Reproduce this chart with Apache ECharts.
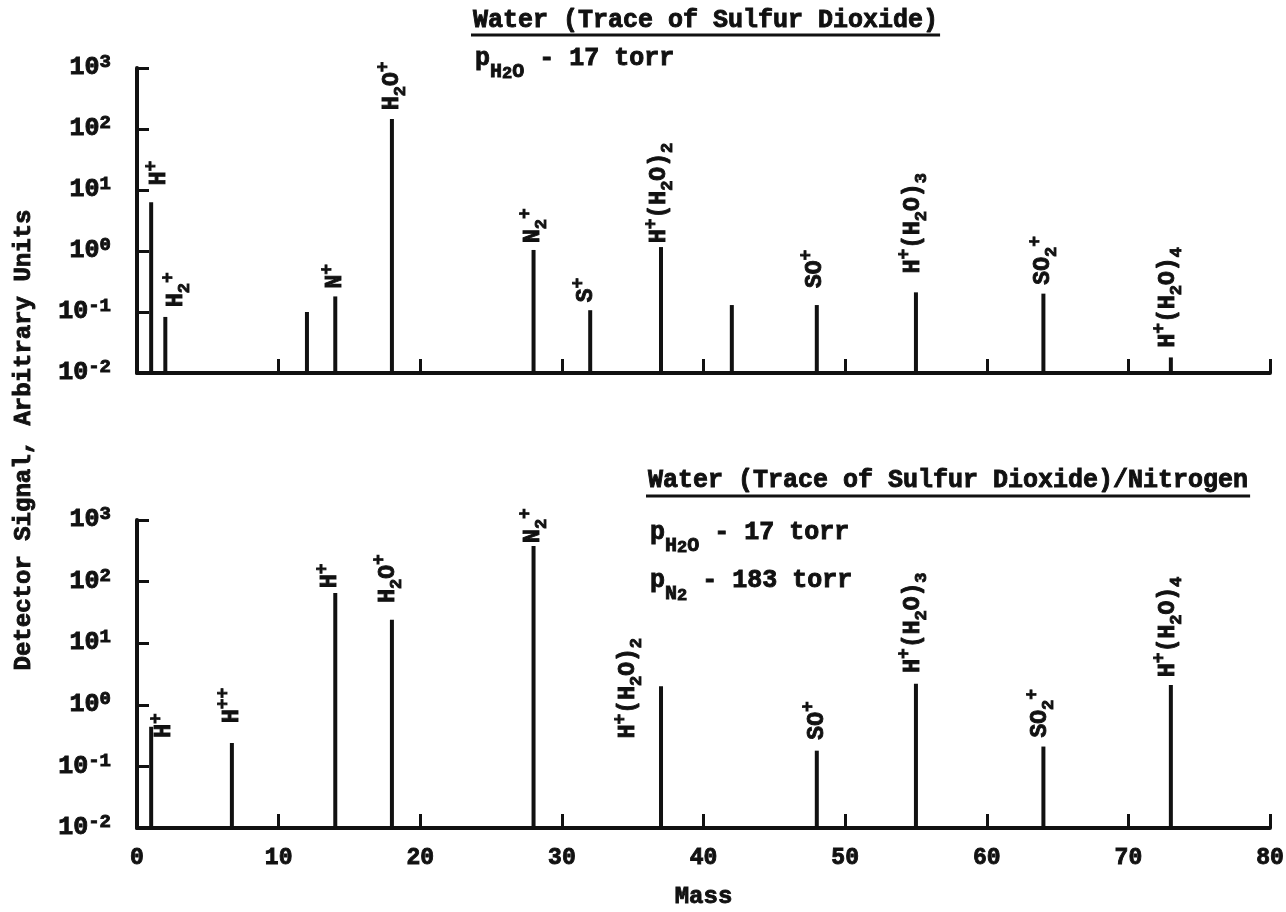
<!DOCTYPE html>
<html>
<head>
<meta charset="utf-8">
<script src="https://cdn.jsdelivr.net/npm/echarts@6/dist/echarts.min.js"></script>
<style>
html,body{margin:0;padding:0;background:#fff;}
#chart{width:1286px;height:912px;}
</style>
</head>
<body>
<div id="chart"></div>
<script>
// ---------------- data ----------------
const massMin = 0;
const massMax = 80;
const massStep = 10;
const signalMin = 0.01;
const signalMax = 1000;

const topMass   = [1, 2, 12, 14, 18, 28, 32, 37, 42, 48, 55, 64, 73];
const topSignal = [6.3, 0.083, 0.10, 0.18, 146, 1.04, 0.107, 1.16, 0.13, 0.13, 0.21, 0.20, 0.018];
const topIon    = ['H^+', 'H_2^+', '', 'N^+', 'H_2O^+', 'N_2^+', 'S^+', 'H^+(H_2O)_2', '', 'SO^+', 'H^+(H_2O)_3', 'SO_2^+', 'H^+(H_2O)_4'];

const bottomMass   = [1, 6.7, 14, 18, 28, 37, 48, 55, 64, 73];
const bottomSignal = [0.44, 0.24, 65, 24, 380, 2.0, 0.18, 2.2, 0.21, 2.1];
const bottomIon    = ['H^+', 'H^+^+', 'H^+', 'H_2O^+', 'N_2^+', 'H^+(H_2O)_2', 'SO^+', 'H^+(H_2O)_3', 'SO_2^+', 'H^+(H_2O)_4'];

const topTitle = 'Water (Trace of Sulfur Dioxide)';
const bottomTitle = 'Water (Trace of Sulfur Dioxide)/Nitrogen';
const yTitle = 'Detector Signal, Arbitrary Units';
const xTitle = 'Mass';

// ---------------- layout / style ----------------
const INK = '#111';
const FONT = '"Liberation Mono", "DejaVu Sans Mono", monospace';
const THICK = 0.9;

// label nudges: [dx right, gap above bar top] in px
const topNudge = {0:[8,17],1:[11,10],3:[0,8],4:[0,9],5:[0,7],6:[-4,8],7:[-2,4],9:[-2,17],10:[-3,19],11:[0,9],12:[-3,10]};
const bottomNudge = {0:[13,-11],1:[0,20],2:[-5,5],3:[-4,17],4:[0,3],5:[-33,-52],6:[0,11],7:[-3,11],8:[-3,9],9:[-3,8]};

function zTok(size, lh, va) {
  return {fontSize: size, fontWeight: 'bold', fontFamily: FONT, lineHeight: lh, verticalAlign: va,
          fill: INK, color: INK, stroke: INK, lineWidth: THICK};
}

const peakRich = {
  m: zTok(23, 34, 'middle'),
  p: zTok(18, 8, 'top'),
  s: zTok(17, 12, 'bottom')
};

function toRich(str) {
  let out = '', buf = '';
  const flush = () => { if (buf) { out += '{m|' + buf + '}'; buf = ''; } };
  for (let i = 0; i < str.length; i++) {
    const c = str[i];
    if (c === '^' || c === '_') {
      flush();
      out += '{' + (c === '^' ? 'p' : 's') + '|' + str[i + 1] + '}';
      i++;
    } else buf += c;
  }
  flush();
  return out;
}

function peakSeries(idx, masses, signals, ions, nudges) {
  return {
    type: 'custom',
    xAxisIndex: idx,
    yAxisIndex: idx,
    clip: false,
    data: masses.map((m, i) => [m, signals[i], i]),
    encode: {x: 0, y: 1},
    renderItem: function (params, api) {
      const m = api.value(0), v = api.value(1), i = api.value(2);
      const base = api.coord([m, signalMin]);
      const top = api.coord([m, v]);
      const children = [{
        type: 'line',
        shape: {x1: base[0], y1: base[1], x2: top[0], y2: top[1]},
        style: {stroke: INK, lineWidth: 4}
      }];
      const ion = ions[i];
      if (ion) {
        const n = nudges[i] || [0, 10];
        children.push({
          type: 'text',
          x: top[0] + n[0],
          y: top[1] - n[1],
          rotation: Math.PI / 2,
          style: {
            text: toRich(ion),
            rich: peakRich,
            align: 'left', verticalAlign: 'middle',
            textAlign: 'left', textVerticalAlign: 'middle',
            fill: INK
          }
        });
      }
      return {type: 'group', children: children};
    }
  };
}

function measure(str, font) {
  const ctx = document.createElement('canvas').getContext('2d');
  ctx.font = font;
  return ctx.measureText(str).width;
}

const titleFont = 'bold 25px ' + FONT;
const topTitleW = measure(topTitle, titleFont);
const bottomTitleW = measure(bottomTitle, titleFont);

const pRich = {
  m: zTok(25, 46, 'middle'),
  s: zTok(20, 14, 'bottom'),
  t: zTok(17, 6, 'bottom')
};

function axisY(idx) {
  return {
    type: 'log', logBase: 10, gridIndex: idx,
    min: signalMin, max: signalMax, splitNumber: 5,
    axisLine: {show: true, lineStyle: {color: INK, width: 4}},
    axisTick: {show: true, inside: true, length: 12, lineStyle: {color: INK, width: 3}},
    minorTick: {show: false},
    splitLine: {show: false},
    axisLabel: {
      margin: 26,
      formatter: function (v) { return '{b|10}{e|' + Math.round(Math.log10(v)) + '}'; },
      rich: {
        b: {fontSize: 25, fontWeight: 'bold', fontFamily: FONT, color: INK, lineHeight: 30, verticalAlign: 'middle', textBorderColor: INK, textBorderWidth: THICK},
        e: {fontSize: 19, fontWeight: 'bold', fontFamily: FONT, color: INK, lineHeight: 10, verticalAlign: 'top', textBorderColor: INK, textBorderWidth: THICK}
      }
    }
  };
}

function axisX(idx, showLabels) {
  return {
    type: 'value', gridIndex: idx,
    min: massMin, max: massMax, interval: massStep,
    axisLine: {show: true, onZero: false, lineStyle: {color: INK, width: 4}},
    axisTick: {show: true, inside: true, length: 14, lineStyle: {color: INK, width: 3}},
    splitLine: {show: false},
    axisLabel: {show: showLabels, margin: 19, color: INK, fontFamily: FONT, fontWeight: 'bold', fontSize: 23,
                textBorderColor: INK, textBorderWidth: THICK},
    name: showLabels ? xTitle : '',
    nameLocation: 'middle',
    nameGap: 57,
    nameTextStyle: {color: INK, fontFamily: FONT, fontWeight: 'bold', fontSize: 24, verticalAlign: 'top',
                    textBorderColor: INK, textBorderWidth: THICK}
  };
}

function plainText(x, y, str, font, extra) {
  return Object.assign({type: 'text', x: x, y: y, style: {text: str, font: font, fill: INK, stroke: INK, lineWidth: THICK,
    align: 'left', verticalAlign: 'middle', textAlign: 'left', textVerticalAlign: 'middle'}}, extra || {});
}

function richText(x, y, str) {
  return {type: 'text', x: x, y: y, style: {text: str, rich: pRich, fill: INK,
    align: 'left', verticalAlign: 'middle', textAlign: 'left', textVerticalAlign: 'middle'}};
}

const yTitleEl = plainText(24, 440, yTitle, 'bold 24px ' + FONT, {rotation: Math.PI / 2});
yTitleEl.style.align = 'center';
yTitleEl.style.textAlign = 'center';

const option = {
  backgroundColor: '#fff',
  animation: false,
  grid: [
    {left: 137, right: 16, top: 68, height: 305, outerBoundsMode: 'none'},
    {left: 137, right: 16, top: 520, height: 308, outerBoundsMode: 'none'}
  ],
  xAxis: [axisX(0, false), axisX(1, true)],
  yAxis: [axisY(0), axisY(1)],
  series: [
    peakSeries(0, topMass, topSignal, topIon, topNudge),
    peakSeries(1, bottomMass, bottomSignal, bottomIon, bottomNudge)
  ],
  graphic: [
    plainText(473, 21, topTitle, titleFont),
    {type: 'line', shape: {x1: 471, y1: 35, x2: 473 + topTitleW + 2, y2: 35}, style: {stroke: INK, lineWidth: 3}},
    richText(475, 59, '{m|p}{s|H}{t|2}{s|O}{m| - 17 torr}'),

    plainText(648, 481, bottomTitle, titleFont),
    {type: 'line', shape: {x1: 646, y1: 496, x2: 648 + bottomTitleW + 2, y2: 496}, style: {stroke: INK, lineWidth: 3}},
    richText(650, 533, '{m|p}{s|H}{t|2}{s|O}{m| - 17 torr}'),
    richText(650, 581, '{m|p}{s|N}{t|2}{m| - 183 torr}'),

    yTitleEl
  ]
};

const chart = echarts.init(document.getElementById('chart'), null, {renderer: 'canvas'});
chart.setOption(option);
</script>
</body>
</html>
